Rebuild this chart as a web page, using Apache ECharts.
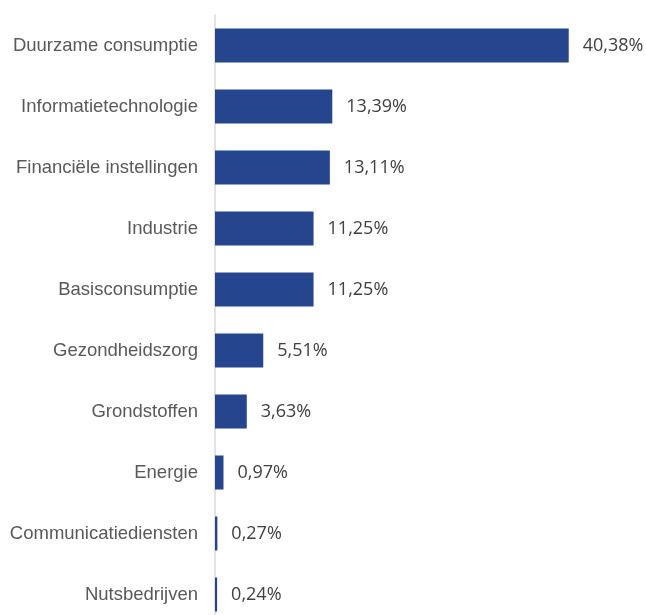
<!DOCTYPE html>
<html>
<head>
<meta charset="utf-8">
<script src="https://cdn.jsdelivr.net/npm/echarts@6/dist/echarts.min.js"></script>
<style>
  html, body { margin: 0; padding: 0; background: #ffffff; }
  #chart { width: 646px; height: 615px; }
</style>
</head>
<body>
<div id="chart"></div>
<script>
// Sector weights of the portfolio, in percent
const sectors = [
  'Duurzame consumptie',
  'Informatietechnologie',
  'Financiële instellingen',
  'Industrie',
  'Basisconsumptie',
  'Gezondheidszorg',
  'Grondstoffen',
  'Energie',
  'Communicatiediensten',
  'Nutsbedrijven'
];
const weights = [40.38, 13.39, 13.11, 11.25, 11.25, 5.51, 3.63, 0.97, 0.27, 0.24];

const chart = echarts.init(document.getElementById('chart'), null, { renderer: 'canvas' });

chart.setOption({
  animation: false,
  backgroundColor: '#ffffff',
  grid: {
    left: 215, top: 15, width: 438, height: 610,
    containLabel: false,
    outerBoundsMode: 'none'
  },
  xAxis: {
    type: 'value',
    min: 0,
    max: 50,
    show: false
  },
  yAxis: {
    type: 'category',
    data: sectors,
    inverse: true,
    axisLine: { show: true, lineStyle: { color: '#d9d9d9', width: 1.5 } },
    axisTick: { show: false },
    splitLine: { show: false },
    axisLabel: {
      margin: 17,
      color: '#595959',
      fontFamily: 'Liberation Sans, Arial, sans-serif',
      fontSize: 18.5
    }
  },
  series: [{
    type: 'bar',
    data: weights,
    barWidth: 34,
    itemStyle: { color: '#26458f' },
    label: {
      show: true,
      position: 'right',
      distance: 14,
      color: '#404040',
      fontFamily: 'Open Sans, sans-serif',
      fontSize: 18,
      formatter: p => p.value.toFixed(2).replace('.', ',') + '%'
    }
  }]
});
</script>
</body>
</html>
